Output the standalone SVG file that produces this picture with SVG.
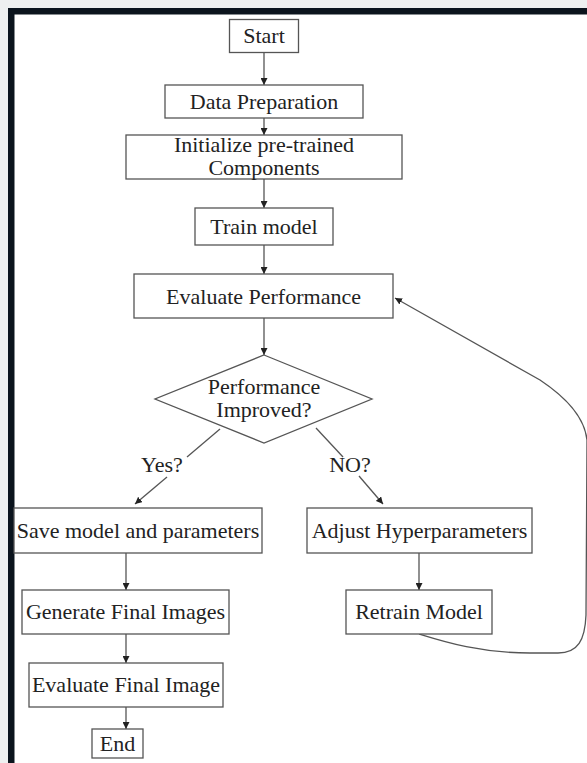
<svg xmlns="http://www.w3.org/2000/svg" width="587" height="763" viewBox="0 0 587 763">
<style>
.box{fill:#fff;stroke:#555;stroke-width:1.3}
.t{font-family:'Liberation Serif','DejaVu Serif',Times,serif;font-size:22px;fill:#222;text-anchor:middle}
.c{fill:none;stroke:#555;stroke-width:1.3}
</style>
<defs>
<marker id="ah" viewBox="0 0 10 10" refX="10" refY="5" markerWidth="7" markerHeight="7" markerUnits="userSpaceOnUse" orient="auto">
<path d="M0,0 L10,5 L0,10 z" fill="#222"/>
</marker>
</defs>
<rect x="0" y="0" width="587" height="763" fill="#eef0f0"/>
<rect x="8" y="8" width="579" height="755" fill="#0b141d"/>
<rect x="14.5" y="14.5" width="572.5" height="748.5" fill="#fff"/>

<g id="connectors">
<line class="c" x1="264" y1="52.5" x2="264" y2="85" marker-end="url(#ah)"/>
<line class="c" x1="264" y1="118" x2="264" y2="135" marker-end="url(#ah)"/>
<line class="c" x1="264" y1="179" x2="264" y2="208" marker-end="url(#ah)"/>
<line class="c" x1="264" y1="245" x2="264" y2="274" marker-end="url(#ah)"/>
<line class="c" x1="264" y1="318" x2="264" y2="355" marker-end="url(#ah)"/>
<line class="c" x1="220" y1="429" x2="187" y2="457"/>
<line class="c" x1="167" y1="477" x2="135" y2="504" marker-end="url(#ah)"/>
<line class="c" x1="316" y1="428" x2="343" y2="457"/>
<line class="c" x1="359" y1="476" x2="383" y2="504" marker-end="url(#ah)"/>
<line class="c" x1="126" y1="553" x2="126" y2="590" marker-end="url(#ah)"/>
<line class="c" x1="126" y1="634" x2="126" y2="663" marker-end="url(#ah)"/>
<line class="c" x1="126" y1="707" x2="126" y2="729" marker-end="url(#ah)"/>
<line class="c" x1="419" y1="553" x2="419" y2="590" marker-end="url(#ah)"/>
<path class="c" d="M419,634 C445,642 480,653 530,653 L558,653 C578,653 585,640 586,615 L587,440 C585,420 570,400 540,380 L395,298" marker-end="url(#ah)"/>
<text class="t" x="162" y="472">Yes?</text>
<text class="t" x="350" y="472">NO?</text>
</g>

<g id="start"><rect class="box" x="229.5" y="19.5" width="69" height="33"/><text class="t" x="264" y="43">Start</text></g>
<g id="data-prep"><rect class="box" x="165" y="85" width="198" height="33"/><text class="t" x="264" y="109">Data Preparation</text></g>
<g id="init"><rect class="box" x="126" y="135" width="276" height="44"/><text class="t" x="264" y="152">Initialize pre-trained</text><text class="t" x="264" y="175">Components</text></g>
<g id="train"><rect class="box" x="195" y="208" width="138" height="37"/><text class="t" x="264" y="234">Train model</text></g>
<g id="evaluate"><rect class="box" x="134" y="274" width="259" height="44"/><text class="t" x="263.5" y="303.5">Evaluate Performance</text></g>
<g id="decision"><polygon class="box" points="264,355 372,399 264,443 155,399"/><text class="t" x="264" y="394">Performance</text><text class="t" x="264" y="417">Improved?</text></g>
<g id="save"><rect class="box" x="14" y="508" width="248" height="45"/><text class="t" x="138" y="538">Save model and parameters</text></g>
<g id="adjust"><rect class="box" x="307" y="508" width="225" height="45"/><text class="t" x="419.5" y="538">Adjust Hyperparameters</text></g>
<g id="generate"><rect class="box" x="22" y="590" width="207" height="44"/><text class="t" x="125.5" y="619">Generate Final Images</text></g>
<g id="retrain"><rect class="box" x="346" y="590" width="146" height="44"/><text class="t" x="419" y="619">Retrain Model</text></g>
<g id="eval-final"><rect class="box" x="29" y="663" width="194" height="44"/><text class="t" x="126" y="692">Evaluate Final Image</text></g>
<g id="end"><rect class="box" x="92" y="729" width="51" height="29"/><text class="t" x="117.5" y="751">End</text></g>
</svg>
